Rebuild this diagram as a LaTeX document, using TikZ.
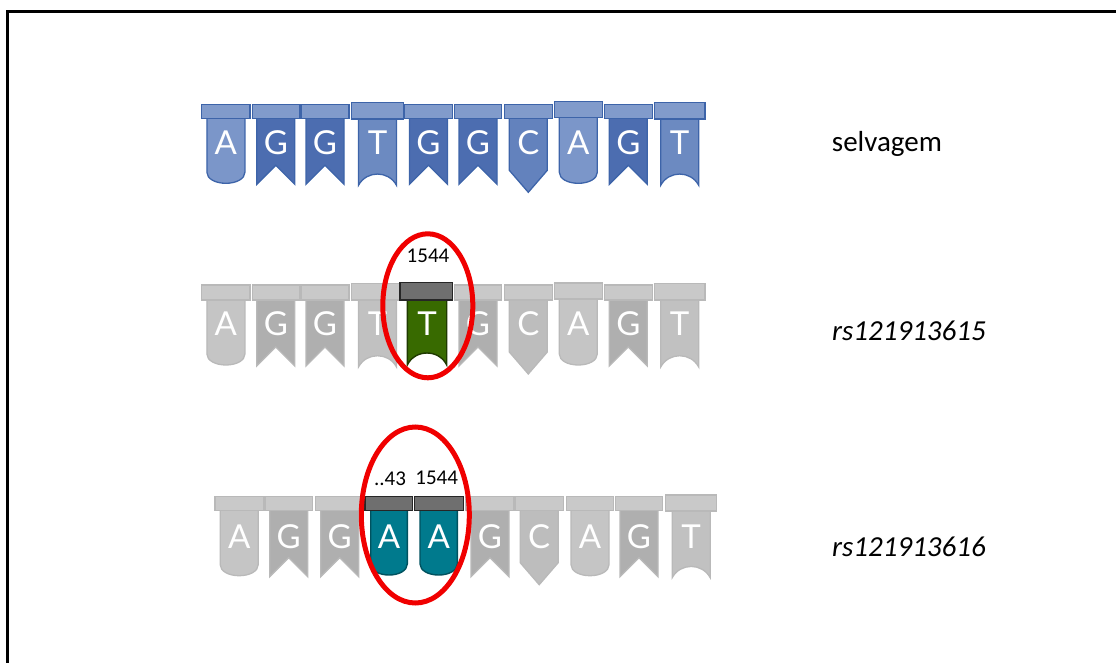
\documentclass[tikz,border=0pt]{standalone}
\usepackage{fontspec}
\setmainfont{Carlito}
\newfontfamily\flagfont{Lato}
\definecolor{capblue}{HTML}{819BCB}
\definecolor{edgeblue}{HTML}{3D64A9}
\definecolor{bA}{HTML}{7B96C9}
\definecolor{bG}{HTML}{4C6DB0}
\definecolor{bT}{HTML}{6C8AC1}
\definecolor{bC}{HTML}{6382BD}
\definecolor{capgray}{HTML}{C9C9C9}
\definecolor{edgegray}{HTML}{B9B9B9}
\definecolor{gA}{HTML}{C5C5C5}
\definecolor{gG}{HTML}{AFAFAF}
\definecolor{gT}{HTML}{C1C1C1}
\definecolor{gC}{HTML}{BDBDBD}
\definecolor{darkcap}{HTML}{6F6F6F}
\definecolor{greenT}{HTML}{386A00}
\definecolor{greenedge}{HTML}{1F3A00}
\definecolor{tealA}{HTML}{007A8D}
\definecolor{tealedge}{HTML}{00525F}
\definecolor{ring}{HTML}{F00000}
\newcommand{\bodyA}[3]{\path[#3] (#1-19,#2-1) -- (#1-19,#2+54) .. controls (#1-19,#2+60.5) and (#1-10.5,#2+65) .. (#1,#2+65) .. controls (#1+10.5,#2+65) and (#1+19,#2+60.5) .. (#1+19,#2+54) -- (#1+19,#2-1) -- cycle;}
\newcommand{\bodyG}[3]{\path[#3] (#1-19,#2-1) -- (#1-19,#2+66) -- (#1,#2+47) -- (#1+19,#2+66) -- (#1+19,#2-1) -- cycle;}
\newcommand{\bodyT}[3]{\path[#3] (#1-19,#2-1) -- (#1-19,#2+67) .. controls (#1-11,#2+52) and (#1+11,#2+52) .. (#1+19,#2+67) -- (#1+19,#2-1) -- cycle;}
\newcommand{\bodyC}[3]{\path[#3] (#1-19,#2-1) -- (#1-19,#2+52) -- (#1,#2+74) -- (#1+19,#2+52) -- (#1+19,#2-1) -- cycle;}
\newcommand{\capbox}[5]{\path[#5] (#1,#2) rectangle ++(#3,#4);}
\begin{document}
\begin{tikzpicture}[x=1pt,y=-1pt,
  bluecap/.style={fill=capblue,draw=edgeblue,line width=1.3pt},
  blueA/.style={fill=bA,draw=edgeblue,line width=1.3pt},
  blueG/.style={fill=bG,draw=edgeblue,line width=1.3pt},
  blueT/.style={fill=bT,draw=edgeblue,line width=1.3pt},
  blueC/.style={fill=bC,draw=edgeblue,line width=1.3pt},
  graycap/.style={fill=capgray,draw=edgegray,line width=1.3pt},
  grayA/.style={fill=gA,draw=edgegray,line width=1.3pt},
  grayG/.style={fill=gG,draw=edgegray,line width=1.3pt},
  grayT/.style={fill=gT,draw=edgegray,line width=1.3pt},
  grayC/.style={fill=gC,draw=edgegray,line width=1.3pt},
  markcap/.style={fill=darkcap,draw=black!85,line width=1.4pt},
  greenbody/.style={fill=greenT,draw=greenedge,line width=1.4pt},
  tealbody/.style={fill=tealA,draw=tealedge,line width=1.4pt},
  nuc/.style={font=\flagfont\fontsize{33}{33}\selectfont,text=white,inner sep=0pt},
  poslab/.style={font=\fontsize{21}{24}\selectfont,inner sep=0pt},
  rowlab/.style={font=\fontsize{29}{34}\selectfont,inner sep=0pt,anchor=base west},
  redring/.style={draw=ring,line width=5pt}]
\useasboundingbox (0,0) rectangle (1116,663);
\draw[line width=3pt] (7.2,680) -- (7.2,11.2) -- (1130,11.2);
% ---------- row 1 : selvagem ----------
\bodyA{225.9}{118.3}{blueA}
\bodyG{275.8}{118.3}{blueG}
\bodyG{325}{118.3}{blueG}
\bodyT{377.5}{118.3}{blueT}
\bodyG{428.5}{118.3}{blueG}
\bodyG{478}{118.3}{blueG}
\bodyC{528.3}{118.3}{blueC}
\bodyA{578.3}{118.3}{blueA}
\bodyG{628.3}{118.3}{blueG}
\bodyT{679.7}{118.3}{blueT}
\capbox{201.7}{104.3}{48.3}{14}{bluecap}
\capbox{252.3}{104.3}{47}{14}{bluecap}
\capbox{301}{104.3}{48}{14}{bluecap}
\capbox{351.7}{102.3}{51.6}{16.7}{bluecap}
\capbox{404.3}{104.3}{48.4}{14}{bluecap}
\capbox{454.3}{104.3}{47.4}{14}{bluecap}
\capbox{504.3}{104.3}{48}{14}{bluecap}
\capbox{554.3}{101.5}{48}{16.2}{bluecap}
\capbox{604.3}{104.3}{48}{14}{bluecap}
\capbox{654.3}{102.3}{50.7}{16.7}{bluecap}
\node[nuc] (a1) at (225.9,142.3) {A};
\node[nuc] (a2) at (275.8,142.3) {G};
\node[nuc] (a3) at (325,142.3) {G};
\node[nuc] (a4) at (377.5,142.3) {T};
\node[nuc] (a5) at (428.5,142.3) {G};
\node[nuc] (a6) at (478,142.3) {G};
\node[nuc] (a7) at (528.3,142.3) {C};
\node[nuc] (a8) at (578.3,142.3) {A};
\node[nuc] (a9) at (628.3,142.3) {G};
\node[nuc] (a10) at (679.7,142.3) {T};
% ---------- row 2 : rs121913615 ----------
\bodyA{225.9}{300}{grayA}
\bodyG{275.8}{300}{grayG}
\bodyG{325}{300}{grayG}
\bodyT{377.5}{300}{grayT}
\bodyG{478}{300}{grayG}
\bodyC{528.3}{300}{grayC}
\bodyA{578.3}{300}{grayA}
\bodyG{628.3}{300}{grayG}
\bodyT{679.7}{300}{grayT}
\capbox{201.7}{285}{48.3}{15}{graycap}
\capbox{252.3}{285}{47}{15}{graycap}
\capbox{301}{285}{48}{15}{graycap}
\capbox{351.7}{283.5}{48}{16.5}{graycap}
\capbox{454.3}{285}{47.4}{15}{graycap}
\capbox{504.3}{285}{48}{15}{graycap}
\capbox{554.3}{283}{48}{16}{graycap}
\capbox{604.3}{285}{48}{15}{graycap}
\capbox{654.3}{283.5}{50.7}{16.5}{graycap}
\node[nuc] (b1) at (225.9,324) {A};
\node[nuc] (b2) at (275.8,324) {G};
\node[nuc] (b3) at (325,324) {G};
\node[nuc] (b4) at (377.5,324) {T};
\node[nuc] (b6) at (478,324) {G};
\node[nuc] (b7) at (528.3,324) {C};
\node[nuc] (b8) at (578.3,324) {A};
\node[nuc] (b9) at (628.3,324) {G};
\node[nuc] (b10) at (679.7,324) {T};
% mutated T
\path[greenbody] (407.3,299) -- (407.3,365) .. controls (415,349) and (439,349) .. (446.7,365) -- (446.7,299) -- cycle;
\capbox{400}{282.7}{52.7}{17.3}{markcap}
\node[nuc] (b5) at (427,324) {T};
\node[poslab] (p1) at (428,256) {1544};
% ---------- row 3 : rs121913616 ----------
\bodyA{239.2}{510.7}{grayA}
\bodyG{288.7}{510.7}{grayG}
\bodyG{339.7}{510.7}{grayG}
\bodyG{490}{510.7}{grayG}
\bodyC{539.2}{510.7}{grayC}
\bodyA{590}{510.7}{grayA}
\bodyG{639}{510.7}{grayG}
\bodyT{691.2}{510.7}{grayT}
\capbox{215}{496.7}{48.3}{14}{graycap}
\capbox{265}{496.7}{47.3}{14}{graycap}
\capbox{315.7}{496.7}{48}{14}{graycap}
\capbox{466}{496.7}{48}{14}{graycap}
\capbox{515}{496.7}{48.3}{14}{graycap}
\capbox{566.7}{496.7}{46.6}{14}{graycap}
\capbox{615.7}{496.7}{46.6}{14}{graycap}
\capbox{665.7}{495}{51}{16}{graycap}
\node[nuc] (c1) at (239.2,536.7) {A};
\node[nuc] (c2) at (288.7,536.7) {G};
\node[nuc] (c3) at (339.7,536.7) {G};
\node[nuc] (c6) at (490,536.7) {G};
\node[nuc] (c7) at (539.2,536.7) {C};
\node[nuc] (c8) at (590,536.7) {A};
\node[nuc] (c9) at (639,536.7) {G};
\node[nuc] (c10) at (691.2,536.7) {T};
% mutated A A
\path[tealbody] (370.7,509.7) -- (370.7,564) .. controls (370.7,570.5) and (379,575) .. (389,575) .. controls (399,575) and (407.3,570.5) .. (407.3,564) -- (407.3,509.7) -- cycle;
\path[tealbody] (420,509.7) -- (420,564) .. controls (420,570.5) and (428.5,575) .. (438.7,575) .. controls (448.8,575) and (457.3,570.5) .. (457.3,564) -- (457.3,509.7) -- cycle;
\capbox{365}{496.7}{47.3}{14}{markcap}
\capbox{414.3}{496.7}{49}{14}{markcap}
\node[nuc] (c4) at (389,536.7) {A};
\node[nuc] (c5) at (438.7,536.7) {A};
\node[poslab] (p2) at (390,478.3) {..43};
\node[poslab] (p3) at (436.7,478.3) {1544};
% ---------- rings ----------
\draw[redring] (427.8,305.8) ellipse [x radius=45pt, y radius=72pt];
\draw[redring] (415.3,515) ellipse [x radius=54pt, y radius=88pt];
% ---------- row labels ----------
\node[rowlab] (l1) at (831.7,151.7) {selvagem};
\node[rowlab] (l2) at (832,340) {\itshape rs121913615};
\node[rowlab] (l3) at (832,556.7) {\itshape rs121913616};
\end{tikzpicture}
\end{document}
